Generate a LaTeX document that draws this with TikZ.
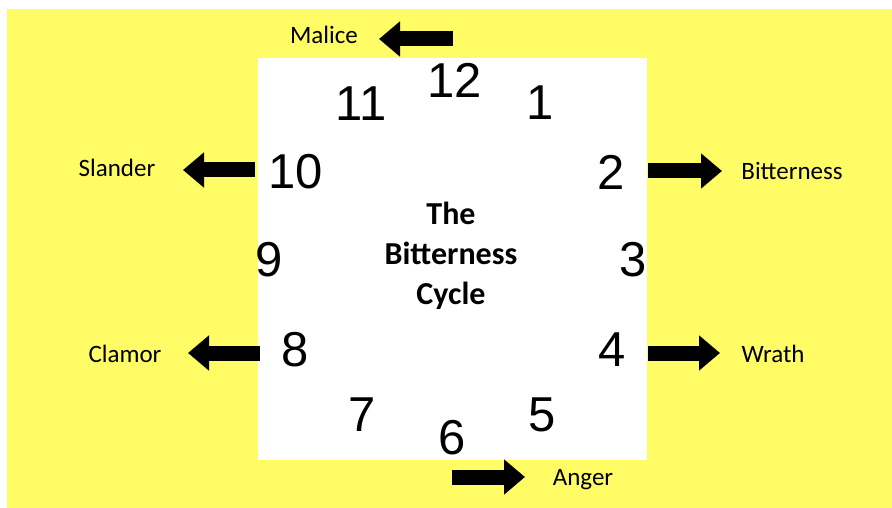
\documentclass[tikz,border=0pt]{standalone}
\usepackage{fontspec}
\setmainfont{Carlito}
\newfontfamily\clockfont{Liberation Sans}
\usetikzlibrary{arrows.meta,positioning}
\definecolor{bgyellow}{RGB}{255,252,102}

\begin{document}
\begin{tikzpicture}[x=1pt,y=-1pt,
		num/.style={font=\clockfont\fontsize{49}{49}\selectfont,inner sep=0pt},
		lbl/.style={font=\fontsize{25}{27}\selectfont,inner sep=0pt,anchor=base},
		blockarrow/.style={line width=15pt,-{Triangle[length=21pt,width=34pt]}}]
		
		\useasboundingbox (0,0) rectangle (892,508);
		\fill[bgyellow] (7,9) rectangle (892,508);
		\fill[white] (258,58) rectangle (647,460);
		
		% clock face
		\node[num] (n12) at (455,80) {12};
		\node[num] (n1) at (540,103) {1};
		\node[num] (n2) at (611,172) {2};
		\node[num] (n3) at (633,260) {3};
		\node[num] (n4) at (612,350) {4};
		\node[num] (n5) at (542,415) {5};
		\node[num] (n6) at (452,438) {6};
		\node[num] (n7) at (362,415) {7};
		\node[num] (n8) at (295,350) {8};
		\node[num] (n9) at (269,260) {9};
		\node[num] (n10) at (296,172) {10};
		\node[num] (n11) at (361,104) {11};
		
		% title
		\node[align=center,font=\bfseries\fontsize{32}{40}\selectfont]
		(title) at (451,256)
		{The\\Bitterness\\Cycle};
		
		% labels
		\node[lbl] (malice) at (324,44) {Malice};
		\node[lbl] (slander) at (117,177) {Slander};
		\node[lbl] (bitter) at (792,179) {Bitterness};
		\node[lbl] (clamor) at (125,362) {Clamor};
		\node[lbl] (wrath) at (773,362) {Wrath};
		\node[lbl] (anger) at (583,485) {Anger};
		
		\coordinate (maliceA) at (453,39);
		\coordinate (maliceB) at (379,39);
		\coordinate (slanderA) at (255,170);
		\coordinate (slanderB) at (183,170);
		\coordinate (bitterA) at (648,171);
		\coordinate (bitterB) at (722,171);
		\coordinate (clamorA) at (260,353);
		\coordinate (clamorB) at (188,353);
		\coordinate (wrathA) at (648,353);
		\coordinate (wrathB) at (720,353);
		\coordinate (angerA) at (452,477);
		\coordinate (angerB) at (525,477);
		
		\draw[blockarrow] (maliceA) -- (maliceB);
		\draw[blockarrow] (slanderA) -- (slanderB);
		\draw[blockarrow] (bitterA) -- (bitterB);
		\draw[blockarrow] (clamorA) -- (clamorB);
		\draw[blockarrow] (wrathA) -- (wrathB);
		\draw[blockarrow] (angerA) -- (angerB);
		
	\end{tikzpicture}
\end{document}
